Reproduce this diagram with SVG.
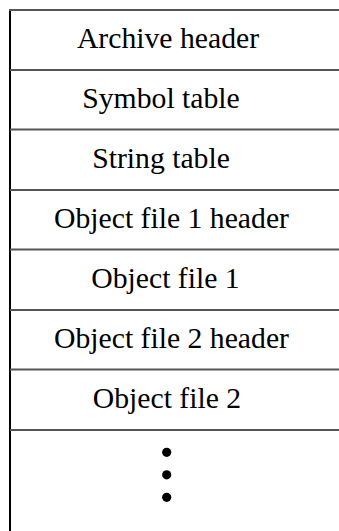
<svg xmlns="http://www.w3.org/2000/svg" width="339" height="531" viewBox="0 0 339 531">
<style>
.sep{stroke:#555;stroke-width:2;fill:none}
.edge{stroke:#000;stroke-width:2;fill:none}
.lbl{font-family:"Liberation Serif","Times New Roman",serif;font-size:29.7px;fill:#000;text-anchor:middle}
.dot{fill:#000}
</style>
<rect width="339" height="531" fill="#fff"/>
<g id="borders">
<line class="edge" x1="10" y1="9" x2="10" y2="531"/>
<line class="sep" x1="9" y1="10" x2="339" y2="10"/>
<line class="sep" x1="10" y1="70" x2="339" y2="70"/>
<line class="sep" x1="10" y1="129.5" x2="339" y2="129.5"/>
<line class="sep" x1="10" y1="190" x2="339" y2="190"/>
<line class="sep" x1="10" y1="249.5" x2="339" y2="249.5"/>
<line class="sep" x1="10" y1="310" x2="339" y2="310"/>
<line class="sep" x1="10" y1="369.5" x2="339" y2="369.5"/>
<line class="sep" x1="10" y1="430" x2="339" y2="430"/>
</g>
<g id="archive-header"><text class="lbl" x="168" y="48">Archive header</text></g>
<g id="symbol-table"><text class="lbl" x="161" y="108">Symbol table</text></g>
<g id="string-table"><text class="lbl" x="161" y="168">String table</text></g>
<g id="obj1-header"><text class="lbl" x="171.5" y="228">Object file 1 header</text></g>
<g id="obj1"><text class="lbl" x="165.5" y="288">Object file 1</text></g>
<g id="obj2-header"><text class="lbl" x="171.5" y="348">Object file 2 header</text></g>
<g id="obj2"><text class="lbl" x="167" y="408">Object file 2</text></g>
<g id="ellipsis">
<circle class="dot" cx="166.7" cy="452.3" r="4.6"/>
<circle class="dot" cx="166.7" cy="474.8" r="4.6"/>
<circle class="dot" cx="166.7" cy="497.3" r="4.6"/>
</g>
</svg>
